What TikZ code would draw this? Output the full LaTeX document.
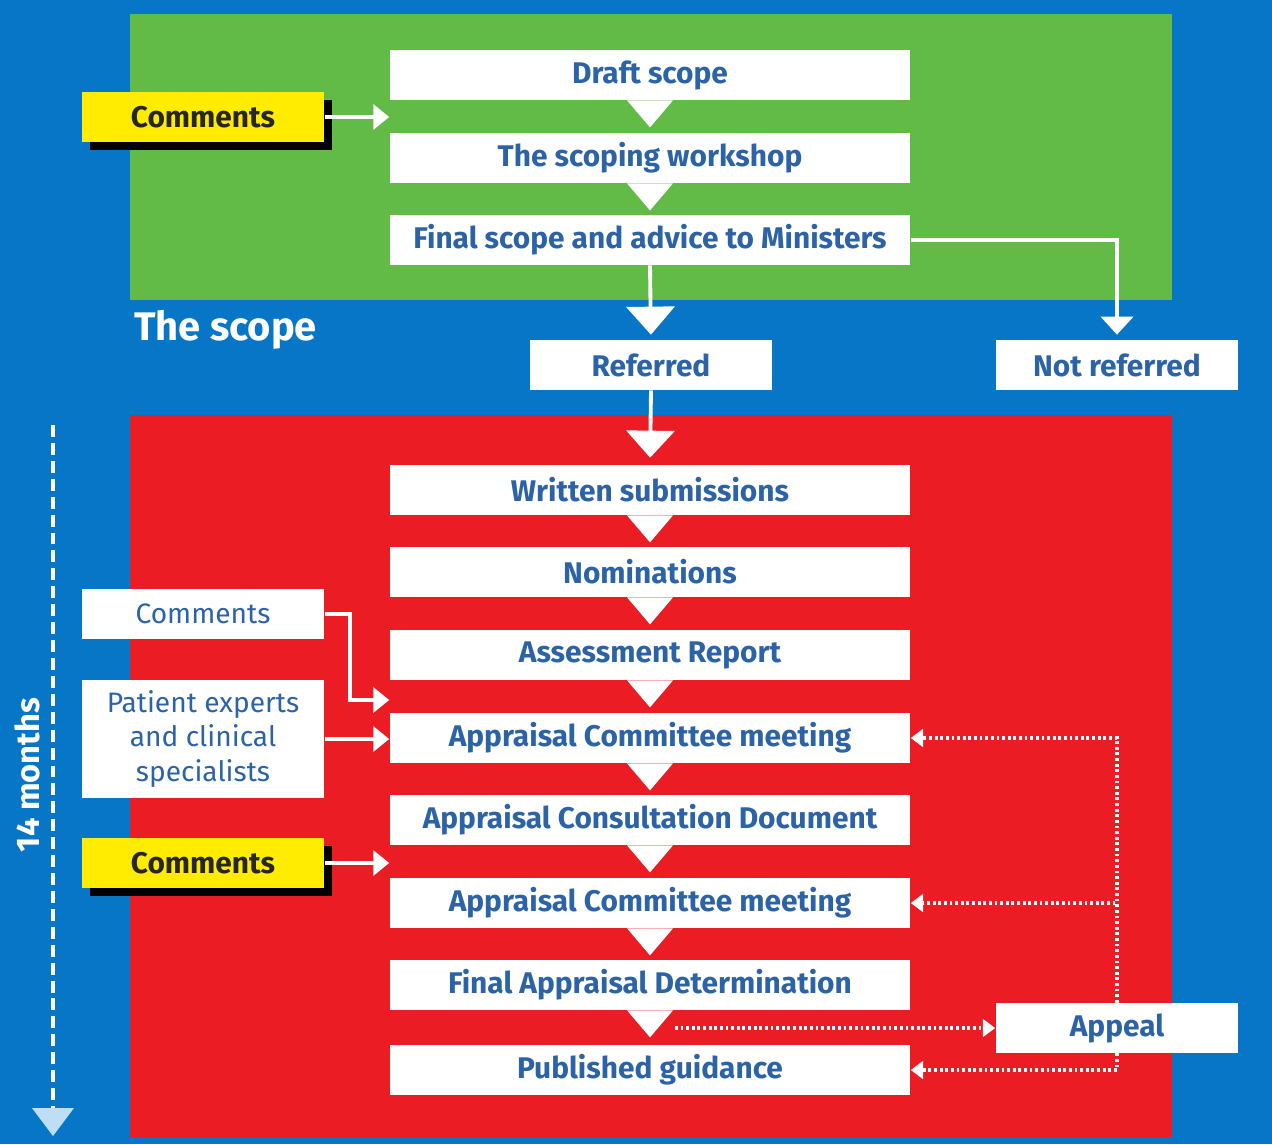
\documentclass[tikz,border=0pt]{standalone}
\usepackage{fontspec}
\setmainfont{Fira Sans}
\usetikzlibrary{arrows.meta,shadows}
\definecolor{bgblue}{RGB}{8,118,198}
\definecolor{scopegreen}{RGB}{99,187,71}
\definecolor{appred}{RGB}{236,28,36}
\definecolor{noteyellow}{RGB}{255,236,0}
\definecolor{textblue}{RGB}{43,99,166}
\definecolor{paleblue}{RGB}{190,222,245}
\tikzset{
  stagebox/.style={fill=white,minimum width=10.42cm,minimum height=1cm,inner sep=0pt,
    text=textblue,font=\bfseries\fontsize{17}{19}\selectfont},
  sidebox/.style={stagebox,minimum width=4.86cm},
  yellownote/.style={sidebox,fill=noteyellow,text=black!85,
    drop shadow={shadow xshift=0.16cm,shadow yshift=-0.16cm,opacity=1,fill=black}},
  plainnote/.style={sidebox,font=\fontsize{16}{19.8}\selectfont,align=center},
  link/.style={white,line width=2.2pt},
  arr/.style={link,-{Triangle[width=14pt,length=9pt]}},
  dots/.style={white,line width=1.8pt,dash pattern=on 1.6pt off 1.6pt,
    -{Triangle[width=10pt,length=7pt]}}
}
\begin{document}
\begin{tikzpicture}[x=0.02cm,y=-0.02cm]
          \fill[bgblue] (0,0) rectangle (1272,1144);
          \useasboundingbox (0,0) rectangle (1272,1144);
          \fill[scopegreen] (130,14) rectangle (1172,300);
          \fill[appred] (130,415) rectangle (1172,1137);

          \begin{scope}
            \node[stagebox](draft) at (650,75){Draft scope};
            \node[stagebox](workshop) at (650,158){The scoping workshop};
            \node[stagebox](final) at (650,240){Final scope and advice to Ministers};
            \node[yellownote](cmt1) at (203,117){Comments};
            \node[anchor=west,text=white,font=\bfseries\fontsize{22.7}{26}\selectfont]
              (scopelbl) at (128,330){The scope};
          \end{scope}

          \begin{scope}
            \node[sidebox](referred) at (651,365){Referred};
            \node[sidebox](notref) at (1117,365){Not referred};
          \end{scope}

          \begin{scope}
            \node[stagebox](written) at (650,490){Written submissions};
            \node[stagebox](nomin) at (650,572){Nominations};
            \node[stagebox](assess) at (650,655){Assessment Report};
            \node[stagebox](meet1) at (650,738){Appraisal Committee meeting};
            \node[stagebox](acd) at (650,820){Appraisal Consultation Document};
            \node[stagebox](meet2) at (650,903){Appraisal Committee meeting};
            \node[stagebox](fad) at (650,985){Final Appraisal Determination};
            \node[stagebox](pub) at (650,1070){Published guidance};
            \node[plainnote](cmt2) at (203,614){Comments};
            \node[plainnote,minimum height=2.36cm](patient) at (203,739)
              {Patient experts\\and clinical\\specialists};
            \node[yellownote](cmt3) at (203,863){Comments};
            \node[sidebox](appeal) at (1117,1028){Appeal};
          \end{scope}

          \begin{scope}
            \foreach \a in {draft,workshop,written,nomin,assess,meet1,acd,meet2,fad}
              \fill[white] (\a.south) ++(-23,0) -- ++(46,0) -- ++(-23,27) -- cycle;
            \draw[link,-{Triangle[width=0.96cm,length=0.56cm]},shorten >=0.1cm]
              (final.south) -- (referred.north);
            \draw[link,-{Triangle[width=0.96cm,length=0.54cm]},shorten >=0.14cm]
              (referred.south) -- (written.north);
            \draw[link,-{Triangle[width=0.64cm,length=0.36cm]},shorten >=0.1cm]
              (final.east) -| (notref.north);
            \draw[arr] (cmt1.east) -- (cmt1.east -| draft.west);
            \draw[arr] (cmt2.east) -- ++(25,0) |- ([yshift=0.76cm]meet1.west);
            \draw[arr] (patient.east) -- (patient.east -| meet1.west);
            \draw[arr] (cmt3.east) -- (cmt3.east -| acd.west);
          \end{scope}

          \begin{scope}
            \draw[dots] ([xshift=0.5cm]appeal.west -| fad.south) -- (appeal.west);
            \draw[dots] (appeal.north) |- (meet1.east);
            \draw[dots] (appeal.north) |- (meet2.east);
            \draw[dots] (appeal.south) |- (pub.east);
          \end{scope}

          \begin{scope}
            \coordinate (top) at (53,425);
            \coordinate (bottom) at (53,1108);
            \draw[white,line width=2.2pt,dash pattern=on 6.8pt off 3.4pt] (top) -- (bottom);
            \fill[paleblue] (bottom) ++(-21,0) -- ++(42,0) -- ++(-21,28) -- cycle;
            \node[rotate=90,text=white,font=\bfseries\fontsize{18.6}{21}\selectfont]
              (months) at (27,775){14 months};
          \end{scope}
        \end{tikzpicture}
\end{document}
